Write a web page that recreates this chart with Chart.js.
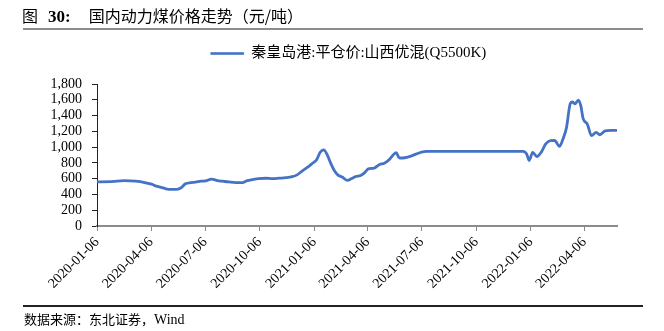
<!DOCTYPE html>
<html>
<head>
<meta charset="utf-8">
<script src="https://cdn.jsdelivr.net/npm/chart.js@4/dist/chart.umd.min.js"></script>
<style>
  html, body { margin:0; padding:0; background:#fff; }
  #wrap { position:relative; width:664px; height:331px; overflow:hidden; }
  #c { position:absolute; left:0; top:0; }
  #title { position:absolute; left:22px; top:6px; font-family:'Noto Sans CJK SC','Liberation Serif',serif; font-size:16px; line-height:18px; color:#000; white-space:nowrap; }
  #title b { font-family:'Liberation Serif',serif; font-weight:bold; font-size:17px; }
  #tline { position:absolute; left:23px; top:28px; width:620px; height:2px; background:#8c8c8c; }
  #fline { position:absolute; left:23px; top:305px; width:620px; height:1.5px; background:#222; }
  #foot { position:absolute; left:24px; top:311px; font-family:'Noto Sans CJK SC','Liberation Serif',serif; font-size:13px; line-height:16px; color:#000; white-space:nowrap; }
  #foot span { font-family:'Liberation Serif',serif; font-size:14px; }
</style>
</head>
<body>
<div id="wrap">
  <canvas id="c" width="664" height="331"></canvas>
  <div id="title">图<span style="display:inline-block;width:10px"></span><b>30:</b><span style="display:inline-block;width:18px"></span>国内动力煤价格走势（元/吨）</div>
  <div id="tline"></div>
  <div id="fline"></div>
  <div id="foot">数据来源：东北证券，<span>Wind</span></div>
</div>
<script>
const seriesName = '秦皇岛港:平仓价:山西优混(Q5500K)';
const dates = [
  '2020-01-06','2020-01-31','2020-02-20','2020-03-11','2020-03-28','2020-04-07','2020-04-15','2020-04-23',
  '2020-05-01','2020-05-09','2020-05-18','2020-05-26','2020-06-03','2020-06-12','2020-06-20','2020-06-29',
  '2020-07-07','2020-07-17','2020-07-27','2020-08-04','2020-08-15','2020-08-27','2020-09-07','2020-09-15',
  '2020-09-24','2020-10-05','2020-10-16','2020-10-28','2020-11-08','2020-11-19','2020-11-30','2020-12-08',
  '2020-12-17','2020-12-26','2021-01-03','2021-01-10','2021-01-16','2021-01-22','2021-01-28','2021-02-03',
  '2021-02-09','2021-02-15','2021-02-22','2021-03-03','2021-03-09','2021-03-17','2021-03-25','2021-03-31',
  '2021-04-07','2021-04-17','2021-04-26','2021-05-04','2021-05-12','2021-05-20','2021-05-24','2021-05-29',
  '2021-06-04','2021-07-14','2021-12-24','2021-12-30','2022-01-03','2022-01-09','2022-01-16','2022-01-24',
  '2022-01-31','2022-02-08','2022-02-15','2022-02-23','2022-03-01','2022-03-07','2022-03-13','2022-03-17',
  '2022-03-21','2022-03-27','2022-03-31','2022-04-04','2022-04-11','2022-04-18','2022-04-26','2022-05-02',
  '2022-05-11','2022-05-21','2022-05-31'
];
const prices = [
  560, 562, 575, 568, 548, 530, 505, 490,
  472, 463, 463, 482, 535, 550, 555, 568,
  572, 595, 575, 568, 558, 550, 550, 575,
  588, 600, 605, 600, 606, 612, 625, 648,
  700, 745, 795, 840, 935, 965, 900, 790,
  700, 645, 620, 578, 598, 627, 640, 670,
  724, 735, 779, 795, 840, 910, 930, 865,
  862, 947, 947, 910, 830, 934, 880, 943,
  1040, 1082, 1085, 1010, 1103, 1250, 1545, 1572,
  1548, 1595, 1525, 1360, 1292, 1145, 1186, 1157,
  1205, 1212, 1212
];
const xTickLabels = ['2020-01-06','2020-04-06','2020-07-06','2020-10-06','2021-01-06','2021-04-06','2021-07-06','2021-10-06','2022-01-06','2022-04-06'];
const yMin = 0, yMax = 1800, yStep = 200;

const DAY = 86400000;
const base = Date.parse(dates[0]);
const toDay = s => Math.round((Date.parse(s) - base) / DAY);
const points = dates.map((d, i) => ({ x: toDay(d), y: prices[i] }));
const tickDays = xTickLabels.map(toDay);
const lastDay = toDay(dates[dates.length - 1]);

const fontLatin = "'Liberation Serif', 'Noto Sans CJK SC', serif";
const blue = '#4472C4';

const layoutHack = {
  id: 'layoutHack',
  beforeInit(chart) {
    const lg = chart.legend;
    if (lg) {
      const orig = lg.fit;
      lg.fit = function () { orig.call(this); this.height = 44; };
    }
  },
  afterLayout(chart) {
    const lg = chart.legend;
    if (lg) { lg.left += 40; lg.right += 40; }
  }
};

new Chart(document.getElementById('c'), {
  type: 'line',
  data: {
    datasets: [{
      label: seriesName,
      data: points,
      borderColor: blue,
      backgroundColor: blue,
      borderWidth: 2.8,
      pointRadius: 0,
      tension: 0.4,
      cubicInterpolationMode: 'monotone',
      fill: false
    }]
  },
  options: {
    responsive: false,
    animation: false,
    devicePixelRatio: 1,
    layout: { padding: { top: 40, left: 0, right: 47, bottom: 25 } },
    plugins: {
      legend: {
        display: true,
        position: 'top',
        labels: {
          boxWidth: 33,
          boxHeight: 2,
          padding: 6,
          color: '#000',
          font: { family: fontLatin, size: 15 },
          generateLabels(chart) {
            const items = Chart.defaults.plugins.legend.labels.generateLabels(chart);
            items.forEach(it => { it.lineWidth = 0.6; });
            return items;
          }
        }
      },
      tooltip: { enabled: false }
    },
    scales: {
      x: {
        type: 'linear',
        min: 0,
        max: lastDay,
        afterBuildTicks(scale) { scale.ticks = tickDays.map(v => ({ value: v })); },
        afterFit(scale) { scale.height = 80; },
        grid: { drawOnChartArea: false, drawTicks: true, tickLength: 5, color: '#888', lineWidth: 1 },
        border: { display: true, color: '#8c8c8c', width: 2 },
        ticks: {
          autoSkip: false,
          maxRotation: 45,
          minRotation: 45,
          padding: 3,
          color: '#000',
          font: { family: fontLatin, size: 14 },
          callback: (v, i) => xTickLabels[i]
        }
      },
      y: {
        min: yMin,
        max: yMax,
        afterFit(scale) { scale.width = 97; },
        grid: { drawOnChartArea: false, drawTicks: true, tickLength: 5, color: '#222', lineWidth: 1 },
        border: { display: true, color: '#222', width: 1 },
        ticks: {
          autoSkip: false,
          stepSize: yStep,
          padding: 10,
          color: '#000',
          font: { family: fontLatin, size: 14 },
          callback: v => Number(v).toLocaleString('en-US')
        }
      }
    }
  },
  plugins: [layoutHack]
});
</script>
</body>
</html>
